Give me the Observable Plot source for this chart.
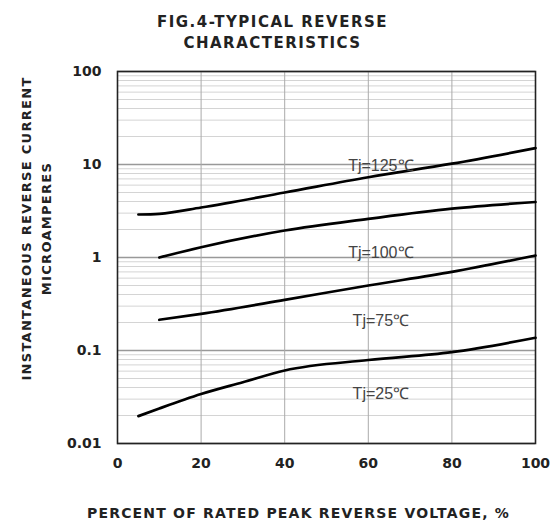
<!DOCTYPE html>
<html>
<head>
<meta charset="utf-8">
<script src="https://cdn.jsdelivr.net/npm/d3@7"></script>
<script src="https://cdn.jsdelivr.net/npm/@observablehq/plot@0.6"></script>
<style>
  html, body { margin: 0; padding: 0; background: #fff; }
  svg { display: block; }
</style>
</head>
<body>
<div id="chart"></div>
<script>
// ---- Data ----
const xTicks = [0, 20, 40, 60, 80, 100];
const yTicks = [0.01, 0.1, 1, 10, 100];
const yTickLabels = ["0.01", "0.1", "1", "10", "100"];

const tj125X = [5, 10, 20, 40, 60, 80, 100];
const tj125Y = [2.9, 2.95, 3.45, 5.0, 7.3, 10.2, 15.0];

const tj100X = [10, 20, 40, 60, 80, 100];
const tj100Y = [1.0, 1.29, 1.95, 2.6, 3.35, 3.95];

const tj75X = [10, 20, 40, 60, 80, 100];
const tj75Y = [0.214, 0.248, 0.35, 0.50, 0.70, 1.05];

const tj25X = [5, 10, 20, 30, 40, 60, 80, 100];
const tj25Y = [0.0197, 0.0238, 0.034, 0.0456, 0.061, 0.079, 0.096, 0.137];

const curveNames = ["Tj=125℃", "Tj=100℃", "Tj=75℃", "Tj=25℃"];
const labelX = [63, 63, 63, 63];
const labelY = [9.7, 1.13, 0.21, 0.034];

const titleText = "FIG.4-TYPICAL REVERSE\nCHARACTERISTICS";
const yTitle = "INSTANTANEOUS REVERSE CURRENT\nMICROAMPERES";
const xTitle = "PERCENT OF RATED PEAK REVERSE VOLTAGE, %";

// ---- Build tables ----
const series = [
  [tj125X, tj125Y, curveNames[0]],
  [tj100X, tj100Y, curveNames[1]],
  [tj75X, tj75Y, curveNames[2]],
  [tj25X, tj25Y, curveNames[3]]
];
const lineData = series.flatMap(([xs, ys, name]) => xs.map((x, i) => ({x, y: ys[i], name})));
const labels = curveNames.map((t, i) => ({x: labelX[i], y: labelY[i], t}));
const yLabelMap = new Map(yTicks.map((v, i) => [v, yTickLabels[i]]));

// minor log grid (2..9 within each decade)
const minor = [];
for (let d = 0; d < yTicks.length - 1; d++) {
  for (let k = 2; k <= 9; k++) minor.push(yTicks[d] * k);
}

const chart = Plot.plot({
  width: 559,
  height: 526,
  marginLeft: 117,
  marginRight: 24,
  marginTop: 71,
  marginBottom: 83,
  style: {fontFamily: "DejaVu Sans", fontWeight: "bold", fontSize: "14px", background: "#fff", color: "#222"},
  x: {domain: [0, 100]},
  y: {type: "log", domain: [0.01, 100]},
  marks: [
    Plot.ruleY(minor, {stroke: "#d4d4d4", strokeWidth: 1}),
    Plot.ruleY(yTicks, {stroke: "#999", strokeWidth: 1.6}),
    Plot.ruleX(xTicks, {stroke: "#aaa", strokeWidth: 1}),
    Plot.frame({stroke: "#222", strokeWidth: 1.6}),
    Plot.axisX({ticks: xTicks, tickSize: 0, tickPadding: 15, tickFormat: d => String(d), label: null, fontSize: 14}),
    Plot.axisY({ticks: yTicks, tickSize: 0, tickPadding: 16, tickFormat: d => yLabelMap.get(d) ?? String(d), label: null, fontSize: 14}),
    Plot.line(lineData, {x: "x", y: "y", z: "name", stroke: "#000", strokeWidth: 2.7, curve: "monotone-x"}),
    Plot.text(labels, {x: "x", y: "y", text: "t", fontFamily: "Liberation Sans", fontWeight: "normal", fontSize: 16, fill: "#444"}),
    Plot.text([titleText], {frameAnchor: "top", textAnchor: "middle", lineAnchor: "top", dx: -54, dy: -59, fontSize: 15, lineHeight: 1.4}),
    Plot.text([yTitle], {frameAnchor: "left", textAnchor: "middle", lineAnchor: "top", rotate: -90, dx: -100, dy: -29, fontSize: 13, lineHeight: 1.5}),
    Plot.text([xTitle], {frameAnchor: "bottom", textAnchor: "middle", lineAnchor: "top", dx: -28, dy: 65, fontSize: 14})
  ]
});
document.getElementById("chart").appendChild(chart);

// letter spacing for the wide bold titles
d3.select(chart).selectAll("text").each(function() {
  const t = this.textContent;
  if (t.startsWith("FIG.4")) d3.select(this).attr("letter-spacing", "1.5px");
  else if (t.startsWith("PERCENT")) d3.select(this).attr("letter-spacing", "1.2px");
  else if (t.startsWith("INSTANT")) d3.select(this).attr("letter-spacing", "1.3px");
});
</script>
</body>
</html>
